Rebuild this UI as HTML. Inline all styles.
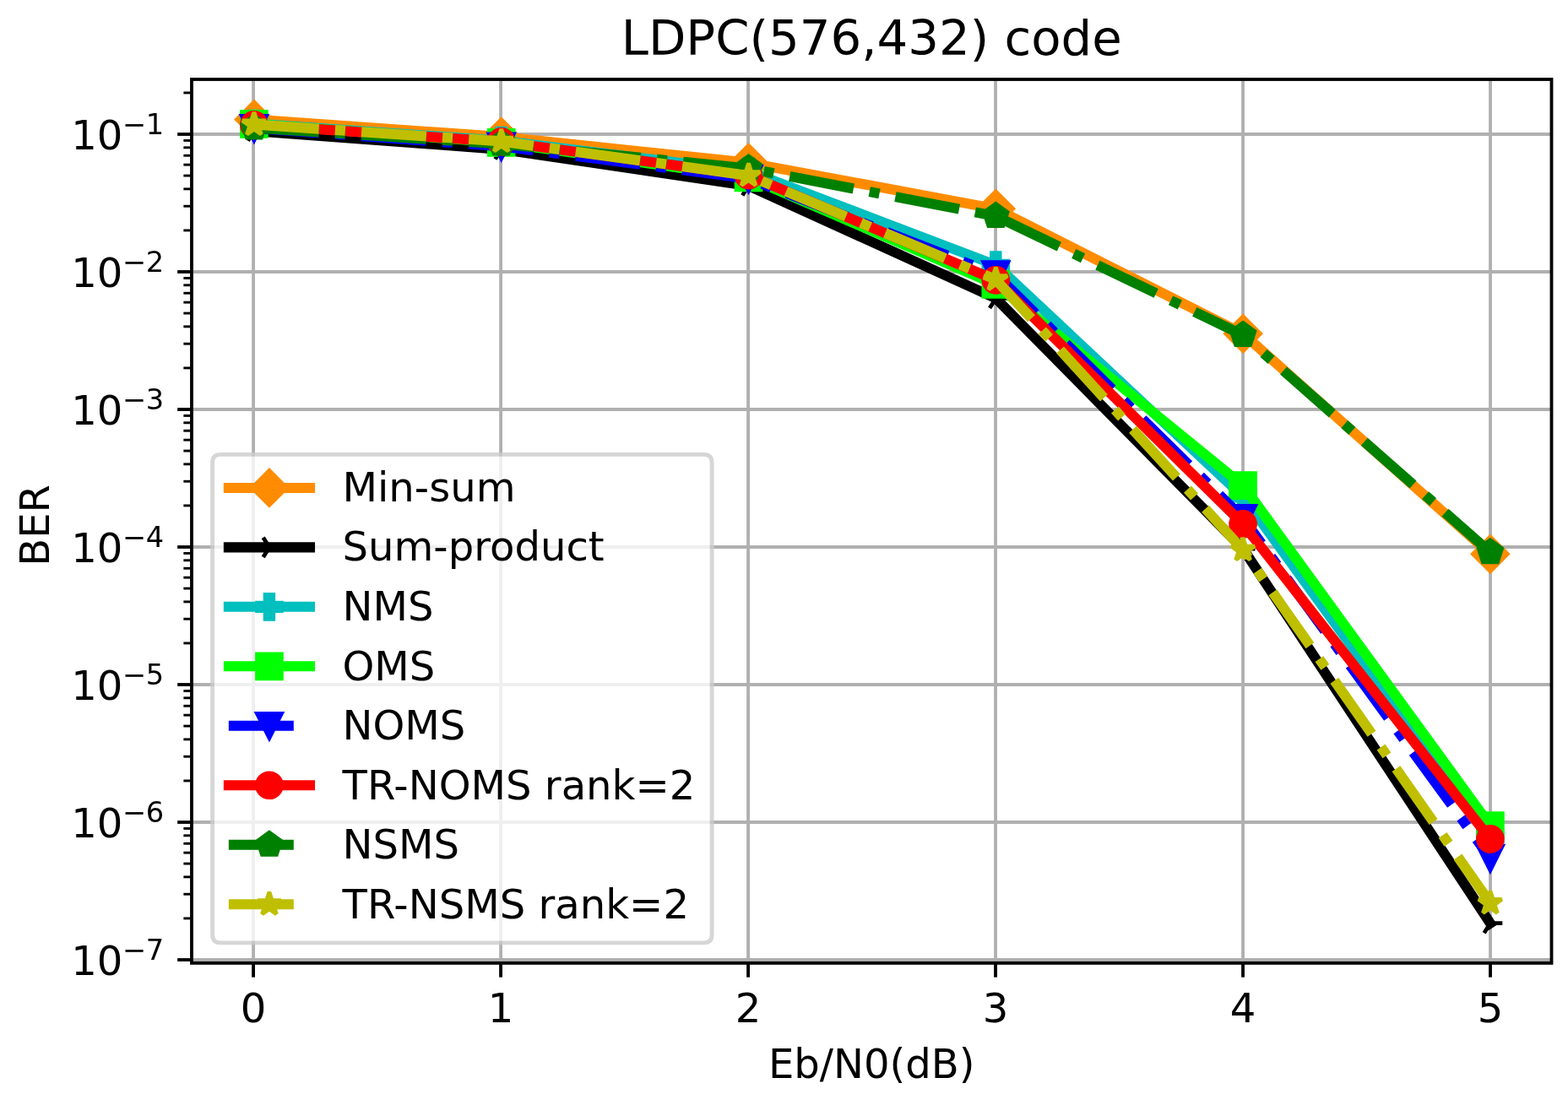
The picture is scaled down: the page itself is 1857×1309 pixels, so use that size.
<!DOCTYPE html>
<html lang="en">
<head>
<meta charset="utf-8">
<title>LDPC(576,432) code</title>
<style>
html,body{margin:0;padding:0;background:#ffffff;}
body{width:1857px;height:1309px;overflow:hidden;}
svg{display:block;}
</style>
</head>
<body>
<svg width="1857" height="1309" viewBox="0 0 1857 1309" role="img" aria-label="LDPC(576,432) code: BER versus Eb/N0(dB)">
<rect x="0" y="0" width="1857" height="1309" fill="#ffffff"/>
<g stroke="#b0b0b0" stroke-width="3.85" fill="none" stroke-linecap="butt">
<path d="M300.08 1140.85 V94"/>
<path d="M593.07 1140.85 V94"/>
<path d="M886.06 1140.85 V94"/>
<path d="M1179.05 1140.85 V94"/>
<path d="M1472.04 1140.85 V94"/>
<path d="M1765.03 1140.85 V94"/>
<path d="M227 1137 H1837.5"/>
<path d="M227 974 H1837.5"/>
<path d="M227 811 H1837.5"/>
<path d="M227 648 H1837.5"/>
<path d="M227 485 H1837.5"/>
<path d="M227 322 H1837.5"/>
<path d="M227 159 H1837.5"/>
</g>
<g stroke="#000000" fill="none" stroke-linecap="butt">
<g stroke-width="3.85">
<path d="M300.08 1140.85 v16.83"/>
<path d="M593.07 1140.85 v16.83"/>
<path d="M886.06 1140.85 v16.83"/>
<path d="M1179.05 1140.85 v16.83"/>
<path d="M1472.04 1140.85 v16.83"/>
<path d="M1765.03 1140.85 v16.83"/>
<path d="M227 1137 h-16.83"/>
<path d="M227 974 h-16.83"/>
<path d="M227 811 h-16.83"/>
<path d="M227 648 h-16.83"/>
<path d="M227 485 h-16.83"/>
<path d="M227 322 h-16.83"/>
<path d="M227 159 h-16.83"/>
</g>
<g stroke-width="2.89">
<path d="M227 1087.93 h-9.62"/>
<path d="M227 1059.23 h-9.62"/>
<path d="M227 1038.86 h-9.62"/>
<path d="M227 1023.07 h-9.62"/>
<path d="M227 1010.16 h-9.62"/>
<path d="M227 999.25 h-9.62"/>
<path d="M227 989.8 h-9.62"/>
<path d="M227 981.46 h-9.62"/>
<path d="M227 924.93 h-9.62"/>
<path d="M227 896.23 h-9.62"/>
<path d="M227 875.86 h-9.62"/>
<path d="M227 860.07 h-9.62"/>
<path d="M227 847.16 h-9.62"/>
<path d="M227 836.25 h-9.62"/>
<path d="M227 826.8 h-9.62"/>
<path d="M227 818.46 h-9.62"/>
<path d="M227 761.93 h-9.62"/>
<path d="M227 733.23 h-9.62"/>
<path d="M227 712.86 h-9.62"/>
<path d="M227 697.07 h-9.62"/>
<path d="M227 684.16 h-9.62"/>
<path d="M227 673.25 h-9.62"/>
<path d="M227 663.8 h-9.62"/>
<path d="M227 655.46 h-9.62"/>
<path d="M227 598.93 h-9.62"/>
<path d="M227 570.23 h-9.62"/>
<path d="M227 549.86 h-9.62"/>
<path d="M227 534.07 h-9.62"/>
<path d="M227 521.16 h-9.62"/>
<path d="M227 510.25 h-9.62"/>
<path d="M227 500.8 h-9.62"/>
<path d="M227 492.46 h-9.62"/>
<path d="M227 435.93 h-9.62"/>
<path d="M227 407.23 h-9.62"/>
<path d="M227 386.86 h-9.62"/>
<path d="M227 371.07 h-9.62"/>
<path d="M227 358.16 h-9.62"/>
<path d="M227 347.25 h-9.62"/>
<path d="M227 337.8 h-9.62"/>
<path d="M227 329.46 h-9.62"/>
<path d="M227 272.93 h-9.62"/>
<path d="M227 244.23 h-9.62"/>
<path d="M227 223.86 h-9.62"/>
<path d="M227 208.07 h-9.62"/>
<path d="M227 195.16 h-9.62"/>
<path d="M227 184.25 h-9.62"/>
<path d="M227 174.8 h-9.62"/>
<path d="M227 166.46 h-9.62"/>
<path d="M227 109.93 h-9.62"/>
</g>
</g>
<clipPath id="ax"><rect x="227" y="94" width="1610.5" height="1046.85"/></clipPath>
<g clip-path="url(#ax)">
<polyline points="300.9,141.4 593.7,162.1 886.5,192.8 1179.3,247.3 1472.1,395.3 1764.9,656.3" fill="none" stroke="#ff8c00" stroke-width="12.02" stroke-linejoin="round" stroke-linecap="square"/>
<path d="M300.9 161.81L321.31 141.4L300.9 120.99L280.49 141.4Z" fill="#ff8c00" stroke="#ff8c00" stroke-width="4.81" stroke-linejoin="miter" stroke-linecap="butt" stroke-miterlimit="10"/>
<path d="M593.7 182.51L614.11 162.1L593.7 141.69L573.29 162.1Z" fill="#ff8c00" stroke="#ff8c00" stroke-width="4.81" stroke-linejoin="miter" stroke-linecap="butt" stroke-miterlimit="10"/>
<path d="M886.5 213.21L906.91 192.8L886.5 172.39L866.09 192.8Z" fill="#ff8c00" stroke="#ff8c00" stroke-width="4.81" stroke-linejoin="miter" stroke-linecap="butt" stroke-miterlimit="10"/>
<path d="M1179.3 267.71L1199.71 247.3L1179.3 226.89L1158.89 247.3Z" fill="#ff8c00" stroke="#ff8c00" stroke-width="4.81" stroke-linejoin="miter" stroke-linecap="butt" stroke-miterlimit="10"/>
<path d="M1472.1 415.71L1492.51 395.3L1472.1 374.89L1451.69 395.3Z" fill="#ff8c00" stroke="#ff8c00" stroke-width="4.81" stroke-linejoin="miter" stroke-linecap="butt" stroke-miterlimit="10"/>
<path d="M1764.9 676.71L1785.31 656.3L1764.9 635.89L1744.49 656.3Z" fill="#ff8c00" stroke="#ff8c00" stroke-width="4.81" stroke-linejoin="miter" stroke-linecap="butt" stroke-miterlimit="10"/>
<polyline points="300.9,155.3 593.7,176.9 886.5,220 1179.3,353.4 1472.1,650 1764.9,1093.7" fill="none" stroke="#000000" stroke-width="12.02" stroke-linejoin="round" stroke-linecap="square"/>
<path d="M300.9 155.3L315.33 155.3M300.9 155.3L293.69 143.76M300.9 155.3L293.69 166.84" fill="none" stroke="#000000" stroke-width="4.81" stroke-linejoin="round" stroke-linecap="butt" stroke-miterlimit="10"/>
<path d="M593.7 176.9L608.13 176.9M593.7 176.9L586.49 165.36M593.7 176.9L586.49 188.44" fill="none" stroke="#000000" stroke-width="4.81" stroke-linejoin="round" stroke-linecap="butt" stroke-miterlimit="10"/>
<path d="M886.5 220L900.93 220M886.5 220L879.28 208.46M886.5 220L879.28 231.54" fill="none" stroke="#000000" stroke-width="4.81" stroke-linejoin="round" stroke-linecap="butt" stroke-miterlimit="10"/>
<path d="M1179.3 353.4L1193.73 353.4M1179.3 353.4L1172.09 341.86M1179.3 353.4L1172.09 364.94" fill="none" stroke="#000000" stroke-width="4.81" stroke-linejoin="round" stroke-linecap="butt" stroke-miterlimit="10"/>
<path d="M1472.1 650L1486.53 650M1472.1 650L1464.88 638.46M1472.1 650L1464.88 661.54" fill="none" stroke="#000000" stroke-width="4.81" stroke-linejoin="round" stroke-linecap="butt" stroke-miterlimit="10"/>
<path d="M1764.9 1093.7L1779.33 1093.7M1764.9 1093.7L1757.69 1082.16M1764.9 1093.7L1757.69 1105.24" fill="none" stroke="#000000" stroke-width="4.81" stroke-linejoin="round" stroke-linecap="butt" stroke-miterlimit="10"/>
<polyline points="300.9,146.5 593.7,166.7 886.5,202.9 1179.3,314 1472.1,588.2 1764.9,992" fill="none" stroke="#00bfbf" stroke-width="12.02" stroke-linejoin="round" stroke-linecap="square"/>
<path d="M296.09 160.93L305.71 160.93L305.71 151.31L315.33 151.31L315.33 141.69L305.71 141.69L305.71 132.07L296.09 132.07L296.09 141.69L286.47 141.69L286.47 151.31L296.09 151.31Z" fill="#00bfbf" stroke="#00bfbf" stroke-width="4.81" stroke-linejoin="miter" stroke-linecap="butt" stroke-miterlimit="10"/>
<path d="M588.89 181.13L598.51 181.13L598.51 171.51L608.13 171.51L608.13 161.89L598.51 161.89L598.51 152.27L588.89 152.27L588.89 161.89L579.27 161.89L579.27 171.51L588.89 171.51Z" fill="#00bfbf" stroke="#00bfbf" stroke-width="4.81" stroke-linejoin="miter" stroke-linecap="butt" stroke-miterlimit="10"/>
<path d="M881.69 217.33L891.31 217.33L891.31 207.71L900.93 207.71L900.93 198.09L891.31 198.09L891.31 188.47L881.69 188.47L881.69 198.09L872.07 198.09L872.07 207.71L881.69 207.71Z" fill="#00bfbf" stroke="#00bfbf" stroke-width="4.81" stroke-linejoin="miter" stroke-linecap="butt" stroke-miterlimit="10"/>
<path d="M1174.49 328.43L1184.11 328.43L1184.11 318.81L1193.73 318.81L1193.73 309.19L1184.11 309.19L1184.11 299.57L1174.49 299.57L1174.49 309.19L1164.87 309.19L1164.87 318.81L1174.49 318.81Z" fill="#00bfbf" stroke="#00bfbf" stroke-width="4.81" stroke-linejoin="miter" stroke-linecap="butt" stroke-miterlimit="10"/>
<path d="M1467.29 602.63L1476.91 602.63L1476.91 593.01L1486.53 593.01L1486.53 583.39L1476.91 583.39L1476.91 573.77L1467.29 573.77L1467.29 583.39L1457.67 583.39L1457.67 593.01L1467.29 593.01Z" fill="#00bfbf" stroke="#00bfbf" stroke-width="4.81" stroke-linejoin="miter" stroke-linecap="butt" stroke-miterlimit="10"/>
<path d="M1760.09 1006.43L1769.71 1006.43L1769.71 996.81L1779.33 996.81L1779.33 987.19L1769.71 987.19L1769.71 977.57L1760.09 977.57L1760.09 987.19L1750.47 987.19L1750.47 996.81L1760.09 996.81Z" fill="#00bfbf" stroke="#00bfbf" stroke-width="4.81" stroke-linejoin="miter" stroke-linecap="butt" stroke-miterlimit="10"/>
<polyline points="300.9,146.9 593.7,168.8 886.5,210.3 1179.3,336.9 1472.1,575.1 1764.9,978" fill="none" stroke="#00ff00" stroke-width="12.02" stroke-linejoin="round" stroke-linecap="square"/>
<path d="M286.47 161.33L315.33 161.33L315.33 132.47L286.47 132.47Z" fill="#00ff00" stroke="#00ff00" stroke-width="4.81" stroke-linejoin="miter" stroke-linecap="butt" stroke-miterlimit="10"/>
<path d="M579.27 183.23L608.13 183.23L608.13 154.37L579.27 154.37Z" fill="#00ff00" stroke="#00ff00" stroke-width="4.81" stroke-linejoin="miter" stroke-linecap="butt" stroke-miterlimit="10"/>
<path d="M872.07 224.73L900.93 224.73L900.93 195.87L872.07 195.87Z" fill="#00ff00" stroke="#00ff00" stroke-width="4.81" stroke-linejoin="miter" stroke-linecap="butt" stroke-miterlimit="10"/>
<path d="M1164.87 351.33L1193.73 351.33L1193.73 322.47L1164.87 322.47Z" fill="#00ff00" stroke="#00ff00" stroke-width="4.81" stroke-linejoin="miter" stroke-linecap="butt" stroke-miterlimit="10"/>
<path d="M1457.67 589.53L1486.53 589.53L1486.53 560.67L1457.67 560.67Z" fill="#00ff00" stroke="#00ff00" stroke-width="4.81" stroke-linejoin="miter" stroke-linecap="butt" stroke-miterlimit="10"/>
<path d="M1750.47 992.43L1779.33 992.43L1779.33 963.57L1750.47 963.57Z" fill="#00ff00" stroke="#00ff00" stroke-width="4.81" stroke-linejoin="miter" stroke-linecap="butt" stroke-miterlimit="10"/>
<polyline points="300.9,151.8 593.7,173.3 886.5,211.5 1179.3,325 1472.1,613.9 1764.9,1016.5" fill="none" stroke="#0000ff" stroke-width="12.02" stroke-linejoin="round" stroke-linecap="butt" stroke-dasharray="76.96 19.24 12.02 19.24"/>
<path d="M300.9 166.23L315.33 137.37L286.47 137.37Z" fill="#0000ff" stroke="#0000ff" stroke-width="4.81" stroke-linejoin="miter" stroke-linecap="butt" stroke-miterlimit="10"/>
<path d="M593.7 187.73L608.13 158.87L579.27 158.87Z" fill="#0000ff" stroke="#0000ff" stroke-width="4.81" stroke-linejoin="miter" stroke-linecap="butt" stroke-miterlimit="10"/>
<path d="M886.5 225.93L900.93 197.07L872.07 197.07Z" fill="#0000ff" stroke="#0000ff" stroke-width="4.81" stroke-linejoin="miter" stroke-linecap="butt" stroke-miterlimit="10"/>
<path d="M1179.3 339.43L1193.73 310.57L1164.87 310.57Z" fill="#0000ff" stroke="#0000ff" stroke-width="4.81" stroke-linejoin="miter" stroke-linecap="butt" stroke-miterlimit="10"/>
<path d="M1472.1 628.33L1486.53 599.47L1457.67 599.47Z" fill="#0000ff" stroke="#0000ff" stroke-width="4.81" stroke-linejoin="miter" stroke-linecap="butt" stroke-miterlimit="10"/>
<path d="M1764.9 1030.93L1779.33 1002.07L1750.47 1002.07Z" fill="#0000ff" stroke="#0000ff" stroke-width="4.81" stroke-linejoin="miter" stroke-linecap="butt" stroke-miterlimit="10"/>
<polyline points="300.9,147.8 593.7,167.9 886.5,207.7 1179.3,331.8 1472.1,620.8 1764.9,993.85" fill="none" stroke="#ff0000" stroke-width="12.02" stroke-linejoin="round" stroke-linecap="square"/>
<path d="M300.9 162.23C304.73 162.23 308.4 160.71 311.1 158C313.81 155.3 315.33 151.63 315.33 147.8C315.33 143.97 313.81 140.3 311.1 137.6C308.4 134.89 304.73 133.37 300.9 133.37C297.07 133.37 293.4 134.89 290.7 137.6C287.99 140.3 286.47 143.97 286.47 147.8C286.47 151.63 287.99 155.3 290.7 158C293.4 160.71 297.07 162.23 300.9 162.23Z" fill="#ff0000" stroke="#ff0000" stroke-width="4.81" stroke-linejoin="round" stroke-linecap="butt" stroke-miterlimit="10"/>
<path d="M593.7 182.33C597.53 182.33 601.2 180.81 603.9 178.1C606.61 175.4 608.13 171.73 608.13 167.9C608.13 164.07 606.61 160.4 603.9 157.7C601.2 154.99 597.53 153.47 593.7 153.47C589.87 153.47 586.2 154.99 583.5 157.7C580.79 160.4 579.27 164.07 579.27 167.9C579.27 171.73 580.79 175.4 583.5 178.1C586.2 180.81 589.87 182.33 593.7 182.33Z" fill="#ff0000" stroke="#ff0000" stroke-width="4.81" stroke-linejoin="round" stroke-linecap="butt" stroke-miterlimit="10"/>
<path d="M886.5 222.13C890.33 222.13 894 220.61 896.7 217.9C899.41 215.2 900.93 211.53 900.93 207.7C900.93 203.87 899.41 200.2 896.7 197.5C894 194.79 890.33 193.27 886.5 193.27C882.67 193.27 879 194.79 876.3 197.5C873.59 200.2 872.07 203.87 872.07 207.7C872.07 211.53 873.59 215.2 876.3 217.9C879 220.61 882.67 222.13 886.5 222.13Z" fill="#ff0000" stroke="#ff0000" stroke-width="4.81" stroke-linejoin="round" stroke-linecap="butt" stroke-miterlimit="10"/>
<path d="M1179.3 346.23C1183.13 346.23 1186.8 344.71 1189.5 342C1192.21 339.3 1193.73 335.63 1193.73 331.8C1193.73 327.97 1192.21 324.3 1189.5 321.6C1186.8 318.89 1183.13 317.37 1179.3 317.37C1175.47 317.37 1171.8 318.89 1169.1 321.6C1166.39 324.3 1164.87 327.97 1164.87 331.8C1164.87 335.63 1166.39 339.3 1169.1 342C1171.8 344.71 1175.47 346.23 1179.3 346.23Z" fill="#ff0000" stroke="#ff0000" stroke-width="4.81" stroke-linejoin="round" stroke-linecap="butt" stroke-miterlimit="10"/>
<path d="M1472.1 635.23C1475.93 635.23 1479.6 633.71 1482.3 631C1485.01 628.3 1486.53 624.63 1486.53 620.8C1486.53 616.97 1485.01 613.3 1482.3 610.6C1479.6 607.89 1475.93 606.37 1472.1 606.37C1468.27 606.37 1464.6 607.89 1461.9 610.6C1459.19 613.3 1457.67 616.97 1457.67 620.8C1457.67 624.63 1459.19 628.3 1461.9 631C1464.6 633.71 1468.27 635.23 1472.1 635.23Z" fill="#ff0000" stroke="#ff0000" stroke-width="4.81" stroke-linejoin="round" stroke-linecap="butt" stroke-miterlimit="10"/>
<path d="M1764.9 1008.28C1768.73 1008.28 1772.4 1006.76 1775.1 1004.05C1777.81 1001.35 1779.33 997.68 1779.33 993.85C1779.33 990.02 1777.81 986.35 1775.1 983.65C1772.4 980.94 1768.73 979.42 1764.9 979.42C1761.07 979.42 1757.4 980.94 1754.7 983.65C1751.99 986.35 1750.47 990.02 1750.47 993.85C1750.47 997.68 1751.99 1001.35 1754.7 1004.05C1757.4 1006.76 1761.07 1008.28 1764.9 1008.28Z" fill="#ff0000" stroke="#ff0000" stroke-width="4.81" stroke-linejoin="round" stroke-linecap="butt" stroke-miterlimit="10"/>
<polyline points="300.9,151.4 593.7,170.5 886.5,199.5 1179.3,256 1472.1,397 1764.9,654.2" fill="none" stroke="#008000" stroke-width="12.02" stroke-linejoin="round" stroke-linecap="butt" stroke-dasharray="76.96 19.24 12.02 19.24"/>
<path d="M300.9 136.97L287.18 146.94L292.42 163.07L309.38 163.07L314.62 146.94Z" fill="#008000" stroke="#008000" stroke-width="4.81" stroke-linejoin="miter" stroke-linecap="butt" stroke-miterlimit="10"/>
<path d="M593.7 156.07L579.98 166.04L585.22 182.17L602.18 182.17L607.42 166.04Z" fill="#008000" stroke="#008000" stroke-width="4.81" stroke-linejoin="miter" stroke-linecap="butt" stroke-miterlimit="10"/>
<path d="M886.5 185.07L872.78 195.04L878.02 211.17L894.98 211.17L900.22 195.04Z" fill="#008000" stroke="#008000" stroke-width="4.81" stroke-linejoin="miter" stroke-linecap="butt" stroke-miterlimit="10"/>
<path d="M1179.3 241.57L1165.58 251.54L1170.82 267.67L1187.78 267.67L1193.02 251.54Z" fill="#008000" stroke="#008000" stroke-width="4.81" stroke-linejoin="miter" stroke-linecap="butt" stroke-miterlimit="10"/>
<path d="M1472.1 382.57L1458.38 392.54L1463.62 408.67L1480.58 408.67L1485.82 392.54Z" fill="#008000" stroke="#008000" stroke-width="4.81" stroke-linejoin="miter" stroke-linecap="butt" stroke-miterlimit="10"/>
<path d="M1764.9 639.77L1751.18 649.74L1756.42 665.87L1773.38 665.87L1778.62 649.74Z" fill="#008000" stroke="#008000" stroke-width="4.81" stroke-linejoin="miter" stroke-linecap="butt" stroke-miterlimit="10"/>
<polyline points="300.9,147.45 593.7,167.5 886.5,208 1179.3,331.2 1472.1,651.5 1764.9,1069.8" fill="none" stroke="#bfbf00" stroke-width="12.02" stroke-linejoin="round" stroke-linecap="butt" stroke-dasharray="76.96 19.24 12.02 19.24"/>
<path d="M300.9 133.02L297.66 142.99L287.18 142.99L295.66 149.15L292.42 159.12L300.9 152.96L309.38 159.12L306.14 149.15L314.62 142.99L304.14 142.99Z" fill="#bfbf00" stroke="#bfbf00" stroke-width="4.81" stroke-linejoin="bevel" stroke-linecap="butt" stroke-miterlimit="10"/>
<path d="M593.7 153.07L590.46 163.04L579.98 163.04L588.46 169.2L585.22 179.17L593.7 173.01L602.18 179.17L598.94 169.2L607.42 163.04L596.94 163.04Z" fill="#bfbf00" stroke="#bfbf00" stroke-width="4.81" stroke-linejoin="bevel" stroke-linecap="butt" stroke-miterlimit="10"/>
<path d="M886.5 193.57L883.26 203.54L872.78 203.54L881.26 209.7L878.02 219.67L886.5 213.51L894.98 219.67L891.74 209.7L900.22 203.54L889.74 203.54Z" fill="#bfbf00" stroke="#bfbf00" stroke-width="4.81" stroke-linejoin="bevel" stroke-linecap="butt" stroke-miterlimit="10"/>
<path d="M1179.3 316.77L1176.06 326.74L1165.58 326.74L1174.06 332.9L1170.82 342.87L1179.3 336.71L1187.78 342.87L1184.54 332.9L1193.02 326.74L1182.54 326.74Z" fill="#bfbf00" stroke="#bfbf00" stroke-width="4.81" stroke-linejoin="bevel" stroke-linecap="butt" stroke-miterlimit="10"/>
<path d="M1472.1 637.07L1468.86 647.04L1458.38 647.04L1466.86 653.2L1463.62 663.17L1472.1 657.01L1480.58 663.17L1477.34 653.2L1485.82 647.04L1475.34 647.04Z" fill="#bfbf00" stroke="#bfbf00" stroke-width="4.81" stroke-linejoin="bevel" stroke-linecap="butt" stroke-miterlimit="10"/>
<path d="M1764.9 1055.37L1761.66 1065.34L1751.18 1065.34L1759.66 1071.5L1756.42 1081.47L1764.9 1075.31L1773.38 1081.47L1770.14 1071.5L1778.62 1065.34L1768.14 1065.34Z" fill="#bfbf00" stroke="#bfbf00" stroke-width="4.81" stroke-linejoin="bevel" stroke-linecap="butt" stroke-miterlimit="10"/>
</g>
<rect x="227" y="94" width="1610.5" height="1046.85" fill="none" stroke="#000000" stroke-width="3.85" stroke-linejoin="miter"/>
<path d="M261.22 1116.9 Q251.6 1116.9 251.6 1107.28 L251.6 548.02 Q251.6 538.4 261.22 538.4 L833.48 538.4 Q843.1 538.4 843.1 548.02 L843.1 1107.28 Q843.1 1116.9 833.48 1116.9 Z" fill="#ffffff" stroke="#cccccc" stroke-width="4.81" opacity="0.8" stroke-linejoin="miter"/>
<path d="M270.84 577.9 H367.04" fill="none" stroke="#ff8c00" stroke-width="12.02" stroke-linecap="square"/>
<path d="M318.94 598.31L339.35 577.9L318.94 557.49L298.53 577.9Z" fill="#ff8c00" stroke="#ff8c00" stroke-width="4.81" stroke-linejoin="miter" stroke-linecap="butt" stroke-miterlimit="10"/>
<path d="M270.84 648.37 H367.04" fill="none" stroke="#000000" stroke-width="12.02" stroke-linecap="square"/>
<path d="M318.94 648.37L333.37 648.37M318.94 648.37L311.72 636.83M318.94 648.37L311.72 659.91" fill="none" stroke="#000000" stroke-width="4.81" stroke-linejoin="round" stroke-linecap="butt" stroke-miterlimit="10"/>
<path d="M270.84 718.84 H367.04" fill="none" stroke="#00bfbf" stroke-width="12.02" stroke-linecap="square"/>
<path d="M314.13 733.27L323.75 733.27L323.75 723.65L333.37 723.65L333.37 714.03L323.75 714.03L323.75 704.41L314.13 704.41L314.13 714.03L304.51 714.03L304.51 723.65L314.13 723.65Z" fill="#00bfbf" stroke="#00bfbf" stroke-width="4.81" stroke-linejoin="miter" stroke-linecap="butt" stroke-miterlimit="10"/>
<path d="M270.84 789.31 H367.04" fill="none" stroke="#00ff00" stroke-width="12.02" stroke-linecap="square"/>
<path d="M304.51 803.74L333.37 803.74L333.37 774.88L304.51 774.88Z" fill="#00ff00" stroke="#00ff00" stroke-width="4.81" stroke-linejoin="miter" stroke-linecap="butt" stroke-miterlimit="10"/>
<path d="M270.84 859.78 H367.04" fill="none" stroke="#0000ff" stroke-width="12.02" stroke-linecap="butt" stroke-dasharray="76.96 19.24 12.02 19.24"/>
<path d="M318.94 874.21L333.37 845.35L304.51 845.35Z" fill="#0000ff" stroke="#0000ff" stroke-width="4.81" stroke-linejoin="miter" stroke-linecap="butt" stroke-miterlimit="10"/>
<path d="M270.84 930.25 H367.04" fill="none" stroke="#ff0000" stroke-width="12.02" stroke-linecap="square"/>
<path d="M318.94 944.68C322.77 944.68 326.44 943.16 329.14 940.45C331.85 937.75 333.37 934.08 333.37 930.25C333.37 926.42 331.85 922.75 329.14 920.05C326.44 917.34 322.77 915.82 318.94 915.82C315.11 915.82 311.44 917.34 308.74 920.05C306.03 922.75 304.51 926.42 304.51 930.25C304.51 934.08 306.03 937.75 308.74 940.45C311.44 943.16 315.11 944.68 318.94 944.68Z" fill="#ff0000" stroke="#ff0000" stroke-width="4.81" stroke-linejoin="round" stroke-linecap="butt" stroke-miterlimit="10"/>
<path d="M270.84 1000.72 H367.04" fill="none" stroke="#008000" stroke-width="12.02" stroke-linecap="butt" stroke-dasharray="76.96 19.24 12.02 19.24"/>
<path d="M318.94 986.29L305.22 996.26L310.46 1012.39L327.42 1012.39L332.66 996.26Z" fill="#008000" stroke="#008000" stroke-width="4.81" stroke-linejoin="miter" stroke-linecap="butt" stroke-miterlimit="10"/>
<path d="M270.84 1071.19 H367.04" fill="none" stroke="#bfbf00" stroke-width="12.02" stroke-linecap="butt" stroke-dasharray="76.96 19.24 12.02 19.24"/>
<path d="M318.94 1056.76L315.7 1066.73L305.22 1066.73L313.7 1072.89L310.46 1082.86L318.94 1076.7L327.42 1082.86L324.18 1072.89L332.66 1066.73L322.18 1066.73Z" fill="#bfbf00" stroke="#bfbf00" stroke-width="4.81" stroke-linejoin="bevel" stroke-linecap="butt" stroke-miterlimit="10"/>
<g font-family="'DejaVu Sans', 'Liberation Sans', sans-serif" fill="#000000">
<text x="405.52" y="593.7" font-size="48.1">Min-sum</text>
<text x="405.52" y="664.32" font-size="48.1">Sum-product</text>
<text x="405.52" y="734.94" font-size="48.1">NMS</text>
<text x="405.52" y="805.56" font-size="48.1">OMS</text>
<text x="405.52" y="876.18" font-size="48.1">NOMS</text>
<text x="405.52" y="946.8" font-size="48.1">TR-NOMS rank=2</text>
<text x="405.52" y="1017.42" font-size="48.1">NSMS</text>
<text x="405.52" y="1088.04" font-size="48.1">TR-NSMS rank=2</text>
<text x="1032.25" y="64.9" font-size="57.72" text-anchor="middle">LDPC(576,432) code</text>
<text x="1032.25" y="1277" font-size="48.1" text-anchor="middle">Eb/N0(dB)</text>
<text transform="translate(58.05 622.4) rotate(-90)" font-size="48.1" text-anchor="middle">BER</text>
<text x="300.08" y="1210.65" font-size="48.1" text-anchor="middle">0</text>
<text x="593.07" y="1210.65" font-size="48.1" text-anchor="middle">1</text>
<text x="886.06" y="1210.65" font-size="48.1" text-anchor="middle">2</text>
<text x="1179.05" y="1210.65" font-size="48.1" text-anchor="middle">3</text>
<text x="1472.04" y="1210.65" font-size="48.1" text-anchor="middle">4</text>
<text x="1765.03" y="1210.65" font-size="48.1" text-anchor="middle">5</text>
<text x="194.3" y="1154.7" font-size="48.1" text-anchor="end">10<tspan dx="-0.7" dy="-17.9" font-size="33.67">−7</tspan></text>
<text x="194.3" y="991.7" font-size="48.1" text-anchor="end">10<tspan dx="-0.7" dy="-17.9" font-size="33.67">−6</tspan></text>
<text x="194.3" y="828.7" font-size="48.1" text-anchor="end">10<tspan dx="-0.7" dy="-17.9" font-size="33.67">−5</tspan></text>
<text x="194.3" y="665.7" font-size="48.1" text-anchor="end">10<tspan dx="-0.7" dy="-17.9" font-size="33.67">−4</tspan></text>
<text x="194.3" y="502.7" font-size="48.1" text-anchor="end">10<tspan dx="-0.7" dy="-17.9" font-size="33.67">−3</tspan></text>
<text x="194.3" y="339.7" font-size="48.1" text-anchor="end">10<tspan dx="-0.7" dy="-17.9" font-size="33.67">−2</tspan></text>
<text x="194.3" y="176.7" font-size="48.1" text-anchor="end">10<tspan dx="-0.7" dy="-17.9" font-size="33.67">−1</tspan></text>
</g>
</svg>
</body>
</html>
